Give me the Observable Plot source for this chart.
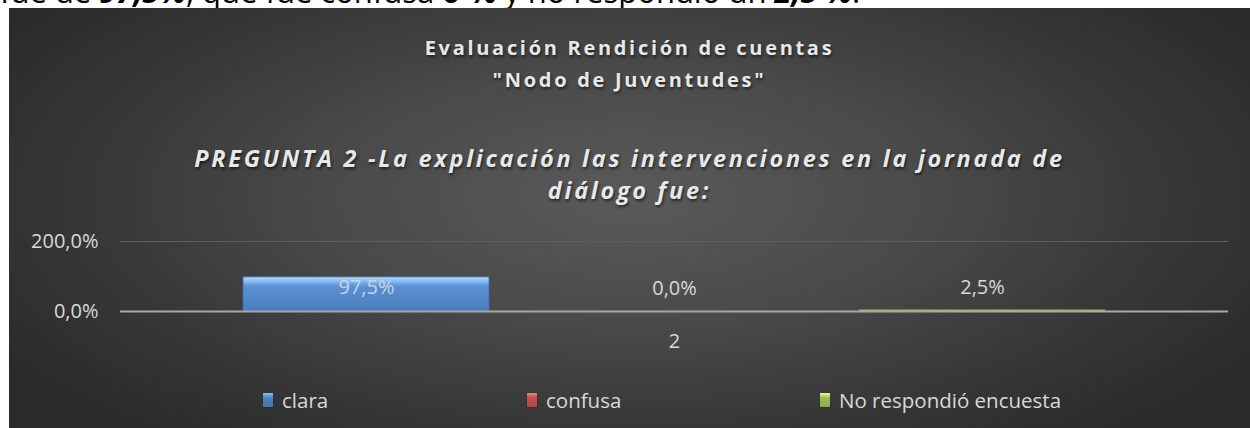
<!DOCTYPE html>
<html>
<head>
<meta charset="utf-8">
<script src="https://cdn.jsdelivr.net/npm/d3@7"></script>
<script src="https://cdn.jsdelivr.net/npm/@observablehq/plot@0.6"></script>
<style>
  html, body { margin: 0; padding: 0; background: #ffffff; }
  #page { position: relative; width: 1250px; height: 428px; overflow: hidden; background: #fff; font-family: "Open Sans", sans-serif; }
  #topline { position: absolute; left: 0; top: 0; width: 1250px; height: 8px; overflow: hidden; }
  #topline div { position: absolute; left: 0; top: -30px; font-size: 31px; color: #000; white-space: nowrap; font-family: "Open Sans", sans-serif; }
  #panel { position: absolute; left: 9px; top: 8px; width: 1241px; height: 420px;
    background: radial-gradient(ellipse 60% 75% at 50% 45%, #5a5a5a 0%, #4a4a4a 40%, #363636 75%, #2a2a2a 100%); }
  .title { position: absolute; left: 0; width: 100%; text-align: center; color: #e8e8e8;
    text-shadow: 1px 2px 3px rgba(0,0,0,0.6); line-height: 32px; }
  #t1 { top: 24px; font-size: 20px; font-weight: 700; letter-spacing: 2.7px; }
  #t2 { top: 134px; font-size: 23.5px; font-weight: 700; font-style: italic; letter-spacing: 2.7px; }
  #chart { position: absolute; left: 0; top: 192px; }
  .leg { position: absolute; top: 380px; height: 24px; display: flex; align-items: center; color: #d9d9d9; font-size: 20.5px; white-space: nowrap; }
  .sw { width: 10px; height: 14px; margin-right: 9px; box-shadow: 0 0 1px rgba(0,0,0,0.5); }
</style>
</head>
<body>
<div id="page">
  <div id="topline"><div>fue de <b><i>97,5%</i></b>, que fue confusa <b>0 %</b> y no respondió un <b><i>2,5 %</i></b>.</div></div>
  <div id="panel">
    <div class="title" id="t1">Evaluación Rendición de cuentas<br>"Nodo de Juventudes"</div>
    <div class="title" id="t2">PREGUNTA 2 -La explicación las intervenciones en la jornada de<br>diálogo fue:</div>
    <div id="chart"></div>
    <div id="legend"></div>
  </div>
</div>
<script>
// ---- data ----
const series = ["clara", "confusa", "No respondió encuesta"];
const values = [97.5, 0.0, 2.5];
const groupLabels = ["2"];
const yTicks = [0, 200];
const colors = ["#4f81bd", "#c0504d", "#9bbb59"];
const gradIds = ["gBlue", "gRed", "gGreen"];
const legendLeft = [254, 518, 811];

const data = series.map((s, i) => ({series: s, value: values[i], grad: `url(#${gradIds[i]})`}));
const fmt = v => v.toFixed(1).replace(".", ",") + "%";

const chart = Plot.plot({
  width: 1241,
  height: 160,
  marginLeft: 111,
  marginRight: 22,
  marginTop: 41,
  marginBottom: 49,
  style: {background: "transparent", color: "#d9d9d9", fontFamily: "'Open Sans', sans-serif", fontSize: "20px", overflow: "visible"},
  x: {domain: series, paddingInner: 0.2, paddingOuter: 0.393, axis: null},
  y: {domain: [0, 200], ticks: yTicks, tickFormat: fmt, tickSize: 0, tickPadding: 22, label: null},
  marks: [
    Plot.ruleY([200], {stroke: "#5e5e5e", strokeWidth: 1}),
    Plot.barY(data, {x: "series", y: "value", fill: "grad", stroke: "#3f6da6", strokeWidth: 0.8, strokeOpacity: d => d.value > 10 ? 1 : 0}),
    Plot.ruleY([0], {stroke: "#a8a8a8", strokeWidth: 2}),
    Plot.barY(data.filter(d => d.value > 0 && d.value < 10), {x: "series", y1: 0, y2: "value", fill: (d) => colors[series.indexOf(d.series)], fillOpacity: 0.55, insetTop: -1}),
    Plot.text(data.filter(d => d.value >= 50), {x: "series", y: "value", text: d => fmt(d.value), dy: 10, fill: "#c5d3e3", fontSize: 20}),
    Plot.text(data.filter(d => d.value < 50), {x: "series", y: "value", text: d => fmt(d.value), dy: -23, fill: "#d9d9d9", fontSize: 20}),
    Plot.text(groupLabels, {frameAnchor: "bottom", lineAnchor: "middle", dy: 30, text: d => d, fill: "#d9d9d9", fontSize: 20})
  ]
});

// gradient defs for bevelled bars
const ns = "http://www.w3.org/2000/svg";
const defs = document.createElementNS(ns, "defs");
const gradSpec = {
  gBlue: [["0%", "#b4d8ff"], ["10%", "#93c2f5"], ["22%", "#6aa0e0"], ["30%", "#5a90d3"], ["100%", "#4a7dbd"]],
  gRed: [["0%", "#f2a09e"], ["25%", "#cc5a57"], ["100%", "#b5443f"]],
  gGreen: [["0%", "#b8c7a0"], ["100%", "#9aa889"]]
};
for (const id of gradIds) {
  const lg = document.createElementNS(ns, "linearGradient");
  lg.setAttribute("id", id);
  lg.setAttribute("x1", "0"); lg.setAttribute("y1", "0");
  lg.setAttribute("x2", "0"); lg.setAttribute("y2", "1");
  for (const [off, col] of gradSpec[id]) {
    const st = document.createElementNS(ns, "stop");
    st.setAttribute("offset", off);
    st.setAttribute("stop-color", col);
    lg.appendChild(st);
  }
  defs.appendChild(lg);
}
chart.insertBefore(defs, chart.firstChild);
document.getElementById("chart").appendChild(chart);

// legend
const legend = document.getElementById("legend");
series.forEach((s, i) => {
  const item = document.createElement("div");
  item.className = "leg";
  item.style.left = legendLeft[i] + "px";
  const sw = document.createElement("div");
  sw.className = "sw";
  sw.style.background = `linear-gradient(180deg, ${d3.color(colors[i]).brighter(1.2)} 0%, ${colors[i]} 35%, ${d3.color(colors[i]).darker(0.3)} 100%)`;
  const tx = document.createElement("span");
  tx.textContent = s;
  item.appendChild(sw);
  item.appendChild(tx);
  legend.appendChild(item);
});
</script>
</body>
</html>
